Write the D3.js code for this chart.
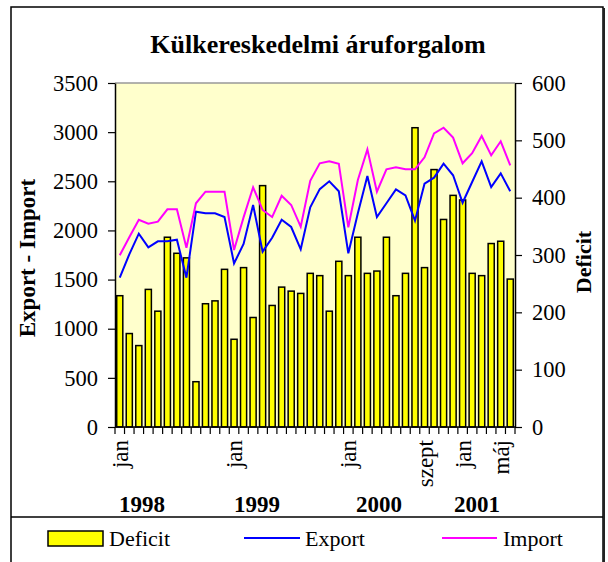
<!DOCTYPE html>
<html>
<head>
<meta charset="utf-8">
<script src="https://cdn.jsdelivr.net/npm/d3@7"></script>
<style>
  body { margin: 0; background: #fff; }
  svg { display: block; font-family: "Liberation Serif", "Times New Roman", serif; }
</style>
</head>
<body>
<div id="chart"></div>
<script>
// monthly data, jan 1998 .. jún 2001
const monthNames = ["jan","feb","márc","ápr","máj","jún","júl","aug","szept","okt","nov","dec"];
const years = [1998, 1999, 2000, 2001];

const deficit = [229, 163, 142, 240, 202, 331, 303, 295, 79, 215, 220, 275,
                 153, 278, 191, 421, 212, 244, 237, 233, 268, 264, 202, 289,
                 264, 331, 268, 272, 331, 229, 268, 522, 278, 449, 362, 404,
                 396, 268, 264, 320, 324, 258];

const exportVals = [1519, 1757, 1967, 1828, 1889, 1889, 1906, 1519, 2191, 2174, 2174, 2136,
                    1665, 1862, 2258, 1784, 1926, 2109, 2035, 1808, 2235, 2420,
                    2500, 2398, 1767, 2174, 2554, 2136, 2276, 2418, 2357, 2099, 2476, 2537,
                    2679, 2561, 2282, 2493, 2703, 2442, 2581, 2398];

const importVals = [1747, 1930, 2109, 2068, 2089, 2215, 2215, 1824, 2276, 2394, 2394, 2394,
                    1801, 2133, 2439, 2208, 2136, 2353, 2259, 2038, 2505, 2683,
                    2703, 2679, 2032, 2513, 2825, 2394, 2622, 2642, 2622, 2622, 2744, 2988,
                    3045, 2944, 2683, 2785, 2961, 2764, 2907, 2662];

// which months get a label under the axis
const shownTicks = [0, 12, 24, 32, 36, 40];
const leftTicks = [0, 500, 1000, 1500, 2000, 2500, 3000, 3500];
const rightTicks = [0, 100, 200, 300, 400, 500, 600];

const W = 608, H = 562;
const plot = { left: 115, right: 515, top: 83, bottom: 427 };
const serif = "'Liberation Serif', 'Times New Roman', serif";

const svg = d3.select("#chart").append("svg")
  .attr("width", W).attr("height", H);

// frame
svg.append("rect")
  .attr("x", 11).attr("y", 7).attr("width", 592).attr("height", H)
  .attr("fill", "#fff").attr("stroke", "#000").attr("stroke-width", 1.5);
svg.append("line")
  .attr("x1", 604).attr("x2", 604).attr("y1", 8).attr("y2", H)
  .attr("stroke", "#222").attr("stroke-width", 2);

svg.append("text")
  .attr("x", 318).attr("y", 53)
  .attr("text-anchor", "middle")
  .attr("font-size", 26).attr("font-weight", "bold")
  .text("Külkereskedelmi áruforgalom");

const idx = d3.range(deficit.length);
const x = d3.scaleBand().domain(idx).range([plot.left, plot.right]).paddingInner(0.36).paddingOuter(0.18);
const yL = d3.scaleLinear().domain([0, 3500]).range([plot.bottom, plot.top]);
const yR = d3.scaleLinear().domain([0, 600]).range([plot.bottom, plot.top]);
const cx = i => x(i) + x.bandwidth() / 2;

svg.append("rect")
  .attr("x", plot.left).attr("y", plot.top)
  .attr("width", plot.right - plot.left).attr("height", plot.bottom - plot.top)
  .attr("fill", "#ffffcc");
svg.append("line")
  .attr("x1", plot.left).attr("x2", plot.right).attr("y1", plot.top).attr("y2", plot.top)
  .attr("stroke", "#999").attr("stroke-width", 1.5);

// bars
svg.append("g").selectAll("rect")
  .data(deficit)
  .join("rect")
  .attr("x", (d, i) => x(i))
  .attr("y", d => yR(d))
  .attr("width", x.bandwidth())
  .attr("height", d => yR(0) - yR(d))
  .attr("fill", "#ffff00")
  .attr("stroke", "#000")
  .attr("stroke-width", 1.5);

const line = d3.line().x((d, i) => cx(i)).y(d => yL(d));
svg.append("path").datum(exportVals)
  .attr("d", line).attr("fill", "none").attr("stroke", "#0000ff").attr("stroke-width", 2);
svg.append("path").datum(importVals)
  .attr("d", line).attr("fill", "none").attr("stroke", "#ff00ff").attr("stroke-width", 2);

// axes
const axL = svg.append("g").attr("transform", `translate(${plot.left},0)`)
  .call(d3.axisLeft(yL).tickValues(leftTicks).tickFormat(d3.format("d"))
    .tickSize(7).tickPadding(10).tickSizeOuter(0));
const axR = svg.append("g").attr("transform", `translate(${plot.right},0)`)
  .call(d3.axisRight(yR).tickValues(rightTicks).tickFormat(d3.format("d"))
    .tickSize(7).tickPadding(10).tickSizeOuter(0));
[axL, axR].forEach(g => {
  g.attr("font-family", null).attr("font-size", null);
  g.selectAll("text").style("font-size", "22.5px").style("font-family", serif).attr("fill", "#000");
  g.select(".domain").attr("stroke", "#000").attr("stroke-width", 1.5);
  g.selectAll(".tick line").attr("stroke", "#000").attr("stroke-width", 1.2);
});

// category axis
const bx = d3.scaleLinear().domain([0, deficit.length]).range([plot.left, plot.right]);
svg.append("line")
  .attr("x1", plot.left).attr("x2", plot.right).attr("y1", plot.bottom).attr("y2", plot.bottom)
  .attr("stroke", "#000").attr("stroke-width", 1.5);
svg.append("g").selectAll("line")
  .data(d3.range(deficit.length + 1))
  .join("line")
  .attr("x1", d => bx(d)).attr("x2", d => bx(d))
  .attr("y1", plot.bottom).attr("y2", plot.bottom + 7)
  .attr("stroke", "#000").attr("stroke-width", 1.2);

svg.append("g").selectAll("text")
  .data(shownTicks)
  .join("text")
  .attr("transform", d => `translate(${cx(d) + 8},${plot.bottom + 13}) rotate(-90)`)
  .attr("text-anchor", "end")
  .attr("font-size", 23)
  .text(d => monthNames[d % 12]);

svg.append("g").selectAll("text")
  .data(years)
  .join("text")
  .attr("x", (d, i) => [142, 257, 379, 477][i])
  .attr("y", 512)
  .attr("text-anchor", "middle")
  .attr("font-size", 23).attr("font-weight", "bold")
  .text(d => d);

svg.append("text")
  .attr("transform", "translate(35,258) rotate(-90)")
  .attr("text-anchor", "middle")
  .attr("font-size", 23).attr("font-weight", "bold")
  .text("Export - Import");
svg.append("text")
  .attr("transform", "translate(591,262) rotate(-90)")
  .attr("text-anchor", "middle")
  .attr("font-size", 22).attr("font-weight", "bold")
  .text("Deficit");

// legend
svg.append("line")
  .attr("x1", 11).attr("x2", 603).attr("y1", 517).attr("y2", 517)
  .attr("stroke", "#000").attr("stroke-width", 1.5);
const legend = svg.append("g").attr("font-size", 22);
legend.append("rect")
  .attr("x", 48).attr("y", 531).attr("width", 55).attr("height", 15)
  .attr("fill", "#ffff00").attr("stroke", "#000").attr("stroke-width", 1.5);
legend.append("text").attr("x", 109).attr("y", 546).text("Deficit");
legend.append("line").attr("x1", 244).attr("x2", 300).attr("y1", 538).attr("y2", 538)
  .attr("stroke", "#0000ff").attr("stroke-width", 2);
legend.append("text").attr("x", 305).attr("y", 546).text("Export");
legend.append("line").attr("x1", 442).attr("x2", 497).attr("y1", 538).attr("y2", 538)
  .attr("stroke", "#ff00ff").attr("stroke-width", 2);
legend.append("text").attr("x", 503).attr("y", 546).text("Import");
</script>
</body>
</html>
